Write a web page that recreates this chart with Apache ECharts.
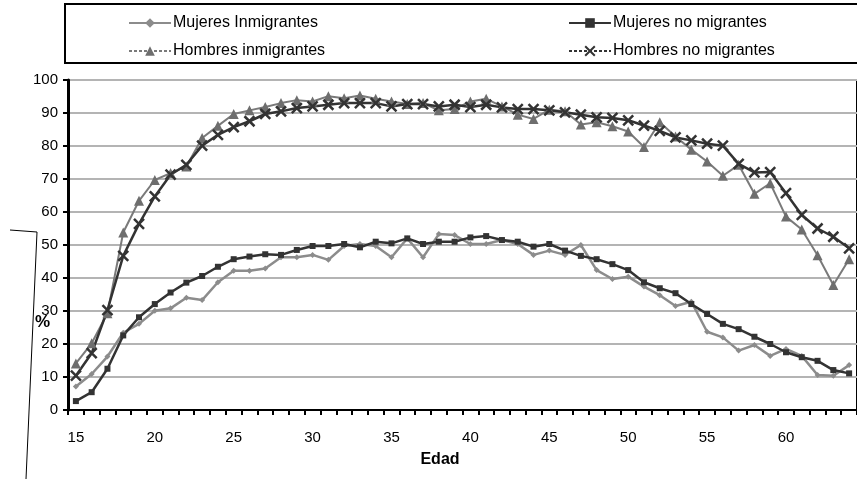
<!DOCTYPE html>
<html>
<head>
<meta charset="utf-8">
<script src="https://cdn.jsdelivr.net/npm/echarts@6/dist/echarts.min.js"></script>
<style>
html,body{margin:0;padding:0;background:#fff;}
#chart{width:857px;height:479px;}
</style>
</head>
<body>
<div id="chart"></div>
<script>
var ages = [];
for (var a = 15; a <= 64; a++) ages.push(String(a));

var mujeresInmigrantes = [7.1,10.9,16.2,23.4,26.1,30.1,30.8,34.0,33.3,38.7,42.2,42.2,42.9,46.3,46.3,47.0,45.5,49.7,50.3,49.7,46.3,52.0,46.3,53.3,53.0,50.3,50.3,51.5,50.3,47.0,48.3,47.0,50.0,42.4,39.7,40.4,37.4,34.8,31.5,32.8,23.7,22.0,18.0,19.7,16.4,18.5,16.4,10.6,10.4,13.6];
var mujeresNoMigrantes = [2.7,5.4,12.5,22.6,28.1,32.1,35.6,38.6,40.6,43.4,45.7,46.5,47.2,47.0,48.5,49.7,49.7,50.3,49.3,51.0,50.5,52.0,50.3,51.0,51.0,52.3,52.7,51.5,51.0,49.5,50.3,48.3,46.7,45.7,44.2,42.4,38.7,36.9,35.4,32.1,29.1,26.1,24.5,22.2,20.0,17.5,16.0,14.9,12.1,11.1];
var hombresInmigrantes = [14.1,20.2,29.3,53.8,63.4,69.7,71.8,73.8,82.4,86.1,89.7,90.8,91.8,93.0,93.9,93.5,95.1,94.5,95.3,94.3,93.5,92.7,93.0,90.8,91.2,93.5,94.3,92.0,89.5,88.2,91.0,90.5,86.5,87.2,86.0,84.4,79.7,87.2,82.9,78.9,75.3,71.0,74.3,65.5,68.7,58.6,54.7,46.9,37.9,45.7];
var hombresNoMigrantes = [10.4,17.2,30.3,46.7,56.4,64.7,71.3,74.3,80.1,83.4,85.7,87.5,89.7,90.5,91.5,92.0,92.5,93.0,93.0,93.0,92.0,92.7,92.7,92.0,92.5,91.8,92.5,91.7,91.2,91.2,90.8,90.2,89.5,88.7,88.5,87.8,86.2,84.6,82.6,81.7,80.7,80.1,74.6,72.0,72.1,65.7,59.1,55.0,52.5,49.0];

var names = ['Mujeres Inmigrantes','Mujeres no migrantes','Hombres inmigrantes','Hombres no migrantes'];
var font = 'Liberation Sans, Arial, sans-serif';

var chart = echarts.init(document.getElementById('chart'), null, {renderer:'canvas'});
var legendText = {fontSize:16, color:'#000', fontFamily:font, padding:[0,0,0,-3]};
var dashed = {type:[3,2], width:2};
chart.setOption({
  animation:false,
  backgroundColor:'#fff',
  grid:{left:68, right:-8, top:80, bottom:69, show:true, borderColor:'#000', borderWidth:2, backgroundColor:'transparent'},
  legend:[
    {left:123, top:10, orient:'vertical', itemGap:12, itemWidth:42, itemHeight:12, textStyle:legendText,
      data:[{name:names[0]}, {name:names[2], lineStyle:dashed}]},
    {left:563, top:10, orient:'vertical', itemGap:12, itemWidth:42, itemHeight:12, textStyle:legendText,
      data:[{name:names[1]}, {name:names[3], lineStyle:dashed}]}
  ],
  xAxis:{
    type:'category', data:ages, boundaryGap:true,
    axisLine:{lineStyle:{color:'#000', width:2}},
    axisTick:{show:true, interval:0, length:5, lineStyle:{color:'#000', width:2}},
    axisLabel:{interval:4, color:'#000', fontSize:15, fontFamily:font, margin:20},
    splitLine:{show:false}
  },
  yAxis:{
    type:'value', min:0, max:100, interval:10,
    axisLine:{show:true, lineStyle:{color:'#000', width:3}},
    axisTick:{show:true, length:5, lineStyle:{color:'#000', width:2}},
    axisLabel:{color:'#000', fontSize:15, fontFamily:font, margin:10},
    splitLine:{show:true, lineStyle:{color:'#b4b4b4', width:2}}
  },
  graphic:[
    {type:'rect', shape:{x:65, y:4, width:820, height:59}, style:{fill:'none', stroke:'#000', lineWidth:2}, z:10},
    {type:'text', x:440, y:452, style:{text:'Edad', font:'bold 16px ' + font, fill:'#000', textAlign:'center'}},
    {type:'text', x:35, y:314, style:{text:'%', font:'bold 17px ' + font, fill:'#000'}},
    {type:'polyline', shape:{points:[[10,230],[37,232],[26,479]]}, style:{stroke:'#000', lineWidth:1, fill:'none'}}
  ],
  series:[
    {name:names[0], type:'line', data:mujeresInmigrantes, symbol:'diamond', symbolSize:6,
      lineStyle:{color:'#8c8c8c', width:2.5}, itemStyle:{color:'#8c8c8c'}},
    {name:names[1], type:'line', data:mujeresNoMigrantes, symbol:'rect', symbolSize:6,
      lineStyle:{color:'#333', width:2.5}, itemStyle:{color:'#333'}},
    {name:names[2], type:'line', data:hombresInmigrantes, symbol:'triangle', symbolSize:10,
      lineStyle:{color:'#7a7a7a', width:2}, itemStyle:{color:'#6e6e6e'}},
    {name:names[3], type:'line', data:hombresNoMigrantes, symbol:'path://M0,0L10,10M10,0L0,10', symbolSize:10,
      lineStyle:{color:'#333', width:2.5}, itemStyle:{color:'none', borderColor:'#333', borderWidth:2.5}}
  ]
});
</script>
</body>
</html>
